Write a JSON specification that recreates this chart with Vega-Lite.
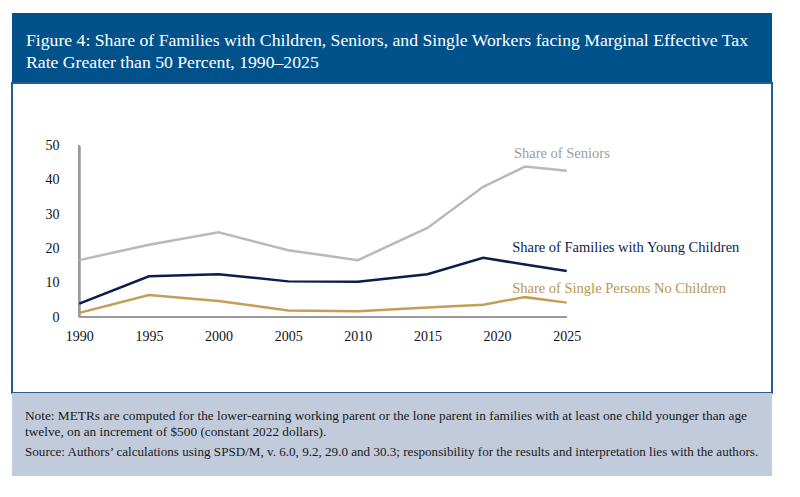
{
  "$schema": "https://vega.github.io/schema/vega-lite/v6.json",
  "padding": {"left": 11, "top": 13, "right": 29, "bottom": 21},
  "spacing": 0,
  "bounds": "flush",
  "background": "white",
  "config": {
    "font": "Liberation Serif",
    "title": {"font": "Liberation Serif", "subtitleFont": "Liberation Serif", "fontWeight": "normal"},
    "text": {"font": "Liberation Serif"},
    "axis": {"labelFont": "Liberation Serif"}
  },
  "datasets": {
    "mtr": [
      {"year": 1990, "series": "Seniors", "value": 16.6},
      {"year": 1995, "series": "Seniors", "value": 21.1},
      {"year": 2000, "series": "Seniors", "value": 24.7},
      {"year": 2005, "series": "Seniors", "value": 19.5},
      {"year": 2010, "series": "Seniors", "value": 16.6},
      {"year": 2015, "series": "Seniors", "value": 26.0},
      {"year": 2019, "series": "Seniors", "value": 38.0},
      {"year": 2022, "series": "Seniors", "value": 43.9},
      {"year": 2025, "series": "Seniors", "value": 42.7},
      {"year": 1990, "series": "Families", "value": 3.9},
      {"year": 1995, "series": "Families", "value": 11.9},
      {"year": 2000, "series": "Families", "value": 12.5},
      {"year": 2005, "series": "Families", "value": 10.4},
      {"year": 2010, "series": "Families", "value": 10.3},
      {"year": 2015, "series": "Families", "value": 12.5},
      {"year": 2019, "series": "Families", "value": 17.3},
      {"year": 2022, "series": "Families", "value": 15.3},
      {"year": 2025, "series": "Families", "value": 13.4},
      {"year": 1990, "series": "Singles", "value": 1.2},
      {"year": 1995, "series": "Singles", "value": 6.4},
      {"year": 2000, "series": "Singles", "value": 4.7},
      {"year": 2005, "series": "Singles", "value": 1.9},
      {"year": 2010, "series": "Singles", "value": 1.7},
      {"year": 2015, "series": "Singles", "value": 2.8},
      {"year": 2019, "series": "Singles", "value": 3.6},
      {"year": 2022, "series": "Singles", "value": 5.8},
      {"year": 2025, "series": "Singles", "value": 4.2}
    ]
  },
  "vconcat": [
    {
      "width": 760,
      "height": 70,
      "view": {"fill": "#01518a", "stroke": null},
      "title": {
        "text": [
          "Figure 4: Share of Families with Children, Seniors, and Single Workers facing Marginal Effective Tax",
          "Rate Greater than 50 Percent, 1990–2025"
        ],
        "font": "Liberation Serif",
        "color": "white",
        "fontSize": 17.7,
        "lineHeight": 22,
        "anchor": "start",
        "frame": "group",
        "orient": "top",
        "dx": 14,
        "offset": -59
      },
      "data": {"values": [{}]},
      "mark": {"type": "rect", "fill": "#01518a"},
      "encoding": {}
    },
    {
      "width": 760,
      "height": 310,
      "view": {"fill": "white", "stroke": "#225d98", "strokeWidth": 2},
      "data": {"name": "mtr"},
      "encoding": {
        "x": {
          "field": "year",
          "type": "quantitative",
          "scale": {"domain": [1985.167, 2039.74], "nice": false, "zero": false},
          "axis": {
            "title": null,
            "orient": "bottom",
            "offset": -76,
            "values": [1990, 1995, 2000, 2005, 2010, 2015, 2020, 2025],
            "format": "d",
            "domain": false,
            "ticks": false,
            "grid": false,
            "labelFont": "Liberation Serif",
            "labelFontSize": 14,
            "labelColor": "#111111",
            "labelPadding": 12
          }
        },
        "y": {
          "field": "value",
          "type": "quantitative",
          "scale": {"domain": [-22.18, 68.3], "nice": false, "zero": false},
          "axis": {
            "title": null,
            "orient": "left",
            "offset": -67,
            "values": [0, 10, 20, 30, 40, 50],
            "domain": false,
            "ticks": false,
            "grid": false,
            "labelFont": "Liberation Serif",
            "labelFontSize": 14,
            "labelColor": "#111111",
            "labelPadding": 20
          }
        }
      },
      "layer": [
        {
          "mark": {"type": "rule", "color": "#9a9a9a", "strokeWidth": 1.5},
          "encoding": {
            "x": {"datum": 1990, "type": "quantitative"},
            "y": {"datum": 0, "type": "quantitative"},
            "y2": {"datum": 50}
          }
        },
        {
          "mark": {"type": "rule", "color": "#9a9a9a", "strokeWidth": 1.5},
          "encoding": {
            "x": {"datum": 1990, "type": "quantitative"},
            "x2": {"datum": 2025},
            "y": {"datum": 0, "type": "quantitative"}
          }
        },
        {
          "mark": {"type": "line", "strokeWidth": 2.5},
          "encoding": {
            "color": {
              "field": "series",
              "type": "nominal",
              "scale": {
                "domain": ["Seniors", "Families", "Singles"],
                "range": ["#b9b9bc", "#0b1f4b", "#c29e56"]
              },
              "legend": null
            }
          }
        },
        {
          "transform": [{"filter": "datum.series === 'Seniors' && datum.year === 2022"}],
          "mark": {"type": "text", "font": "Liberation Serif", "align": "left", "baseline": "middle", "dx": -11, "dy": -12.6, "fontSize": 14.5, "color": "#9c9c9f"},
          "encoding": {"text": {"value": "Share of Seniors"}}
        },
        {
          "transform": [{"filter": "datum.series === 'Families' && datum.year === 2019"}],
          "mark": {"type": "text", "font": "Liberation Serif", "align": "left", "baseline": "middle", "dx": 29, "dy": -9.4, "fontSize": 14.5, "color": "#0b1f4b"},
          "encoding": {"text": {"value": "Share of Families with Young Children"}}
        },
        {
          "transform": [{"filter": "datum.series === 'Singles' && datum.year === 2019"}],
          "mark": {"type": "text", "font": "Liberation Serif", "align": "left", "baseline": "middle", "dx": 29, "dy": -15.7, "fontSize": 14.5, "color": "#b8954f"},
          "encoding": {"text": {"value": "Share of Single Persons No Children"}}
        }
      ]
    },
    {
      "width": 760,
      "height": 83,
      "view": {"fill": "#c1cbdb", "stroke": null},
      "title": {
        "text": [
          "Note: METRs are computed for the lower-earning working parent or the lone parent in families with at least one child younger than age",
          "twelve, on an increment of $500 (constant 2022 dollars)."
        ],
        "subtitle": "Source: Authors’ calculations using SPSD/M, v. 6.0, 9.2, 29.0 and 30.3; responsibility for the results and interpretation lies with the authors.",
        "font": "Liberation Serif",
        "subtitleFont": "Liberation Serif",
        "color": "#1a1a1a",
        "subtitleColor": "#1a1a1a",
        "fontSize": 13.3,
        "subtitleFontSize": 13.1,
        "lineHeight": 16,
        "subtitleLineHeight": 16,
        "subtitlePadding": 8,
        "anchor": "start",
        "frame": "group",
        "orient": "top",
        "dx": 13,
        "offset": -66
      },
      "data": {"values": [{}]},
      "mark": {"type": "rect", "fill": "#c1cbdb"},
      "encoding": {}
    }
  ]
}
